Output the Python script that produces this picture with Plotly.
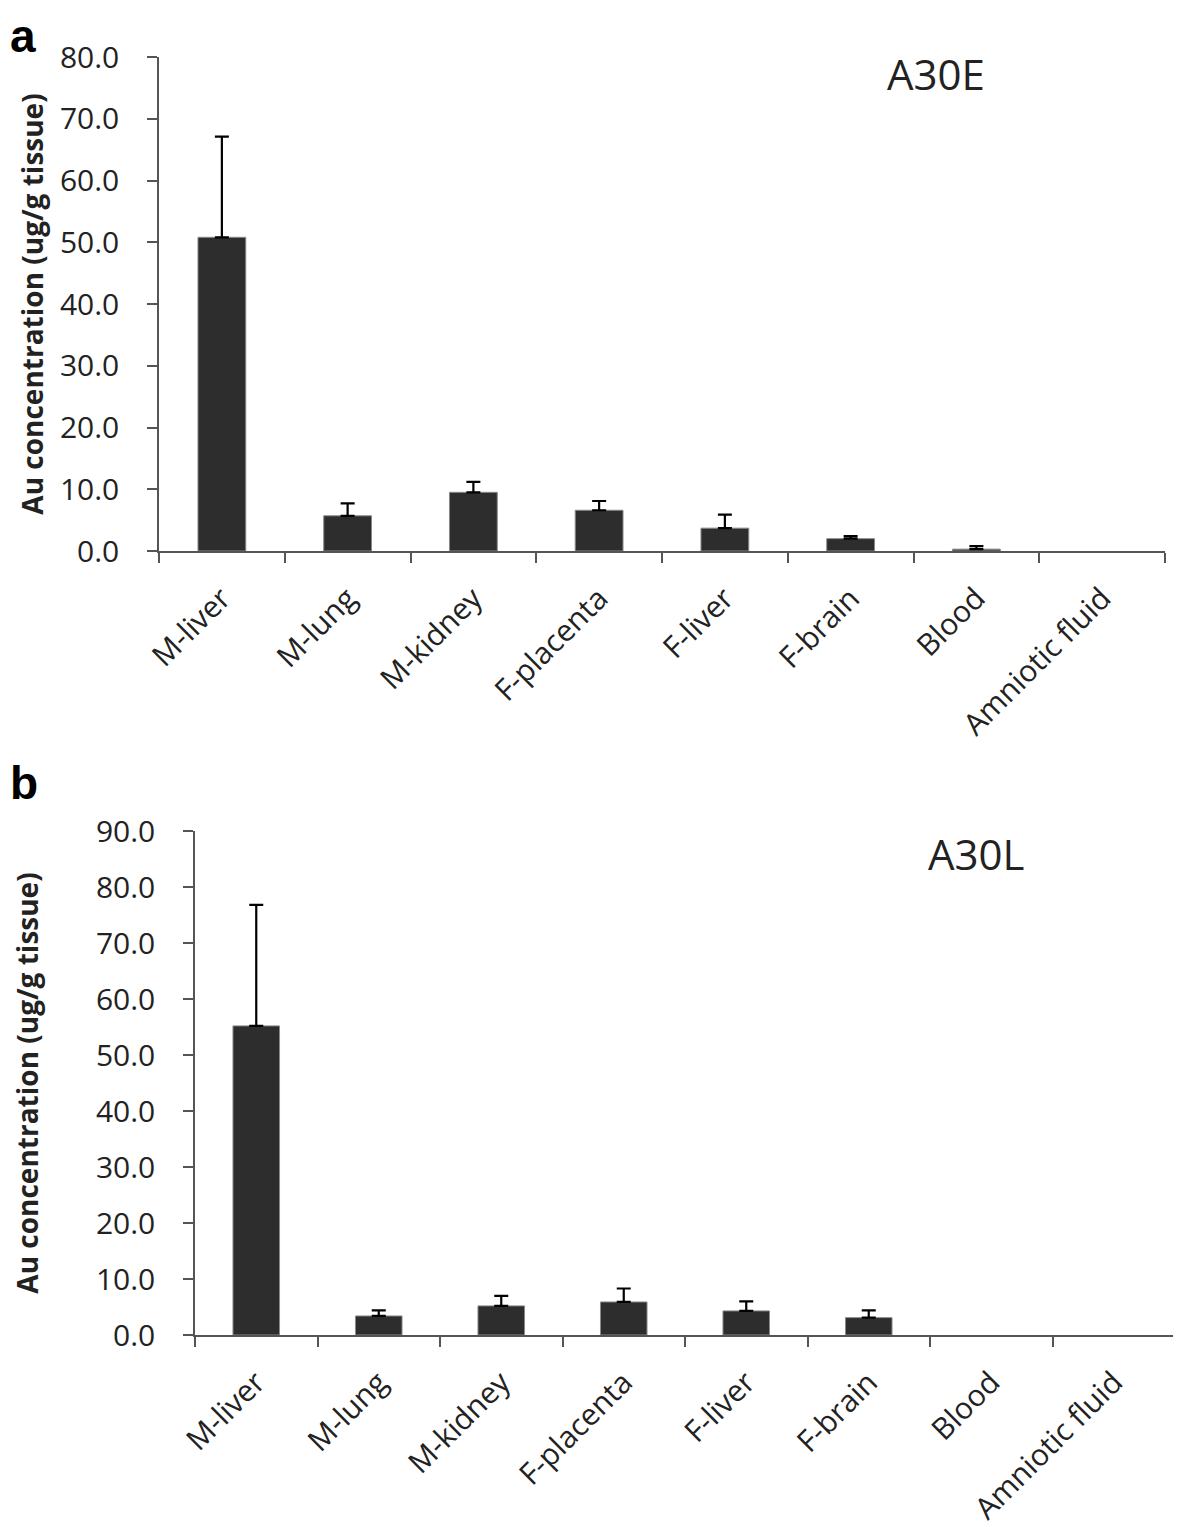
import plotly.graph_objects as go

categories = ["M-liver", "M-lung", "M-kidney", "F-placenta", "F-liver", "F-brain", "Blood", "Amniotic fluid"]

a_values = [50.8, 5.7, 9.5, 6.6, 3.7, 2.0, 0.3, 0.0]
a_err = [16.3, 2.0, 1.7, 1.5, 2.2, 0.4, 0.5, 0.0]
b_values = [55.2, 3.4, 5.2, 5.9, 4.3, 3.1, 0.0, 0.0]
b_err = [21.6, 1.0, 1.8, 2.4, 1.7, 1.3, 0.0, 0.0]

a_ticks = [0, 10, 20, 30, 40, 50, 60, 70, 80]
b_ticks = [0, 10, 20, 30, 40, 50, 60, 70, 80, 90]

W, H = 1181, 1527
OFF = 8  # page body margin
FONT = "Open Sans"
BAR = "#2d2d2d"
TXT = "#222222"

def px_x(x):
    return (x - OFF) / W

def px_y(y):
    return 1 - (y - OFF) / H

fig = go.Figure()

def add_bars(vals, errs, xa, ya):
    fig.add_trace(go.Bar(
        x=categories, y=[v if v > 0 else None for v in vals], xaxis=xa, yaxis=ya, width=0.38,
        marker=dict(color=BAR, line=dict(color="#8a8a8a", width=1)),
        error_y=dict(type="data", array=[e if e > 0 else None for e in errs], symmetric=False,
                     arrayminus=[0] * len(errs), color="black", thickness=2.2, width=7, visible=True),
        showlegend=False,
    ))

add_bars(a_values, a_err, "x", "y")
add_bars(b_values, b_err, "x2", "y2")

def xa(domain, anchor):
    return dict(domain=domain, anchor=anchor, type="category", showline=True, linecolor="#555555",
                linewidth=1.5, ticks="outside", ticklen=10, tickcolor="#555555", tickwidth=1.5,
                tickson="boundaries", tickangle=-45, showgrid=False, zeroline=False,
                automargin=False, ticklabelstandoff=16,
                tickfont=dict(family=FONT, size=30, color=TXT),
                categoryorder="array", categoryarray=categories,
                range=[-0.5, 7.5])

def ya(domain, anchor, rng, ticks, standoff):
    return dict(domain=domain, anchor=anchor, range=rng, tickvals=ticks,
                ticktext=[f"{t:.1f}" for t in ticks], showline=True, linecolor="#555555",
                linewidth=1.5, ticks="outside", ticklen=10, tickcolor="#555555", tickwidth=1.5,
                showgrid=False, zeroline=False, automargin=False, ticklabelstandoff=22,
                tickfont=dict(family=FONT, size=30, color=TXT),
                title=dict(text="<b>Au concentration (ug/g tissue)</b>",
                           font=dict(family=FONT, size=28, color=TXT), standoff=standoff))

fig.update_layout(
    width=W, height=H, margin=dict(l=0, r=0, t=0, b=0, autoexpand=False),
    plot_bgcolor="white", paper_bgcolor="white",
    xaxis=xa([px_x(159), px_x(1165)], "y"),
    yaxis=ya([px_y(551), px_y(57)], "x", [0, 80], a_ticks, 8),
    xaxis2=xa([px_x(195), px_x(1175)], "y2"),
    yaxis2=ya([px_y(1335), px_y(831)], "x2", [0, 90], b_ticks, 62),
    annotations=[
        dict(text="A30E", x=px_x(936), y=px_y(73), xref="paper", yref="paper", showarrow=False,
             xanchor="center", yanchor="middle", font=dict(family=FONT, size=42, color=TXT)),
        dict(text="A30L", x=px_x(976), y=px_y(853), xref="paper", yref="paper", showarrow=False,
             xanchor="center", yanchor="middle", font=dict(family=FONT, size=42, color=TXT)),
        dict(text="<b>a</b>", x=0, y=1, xref="paper", yref="paper", showarrow=False,
             xanchor="left", yanchor="top", font=dict(family="Liberation Sans", size=46, color="black")),
        dict(text="<b>b</b>", x=0, y=px_y(783), xref="paper", yref="paper", showarrow=False,
             xanchor="left", yanchor="middle", font=dict(family="Liberation Sans", size=46, color="black")),
    ],
)

fig.write_html("out.html")
